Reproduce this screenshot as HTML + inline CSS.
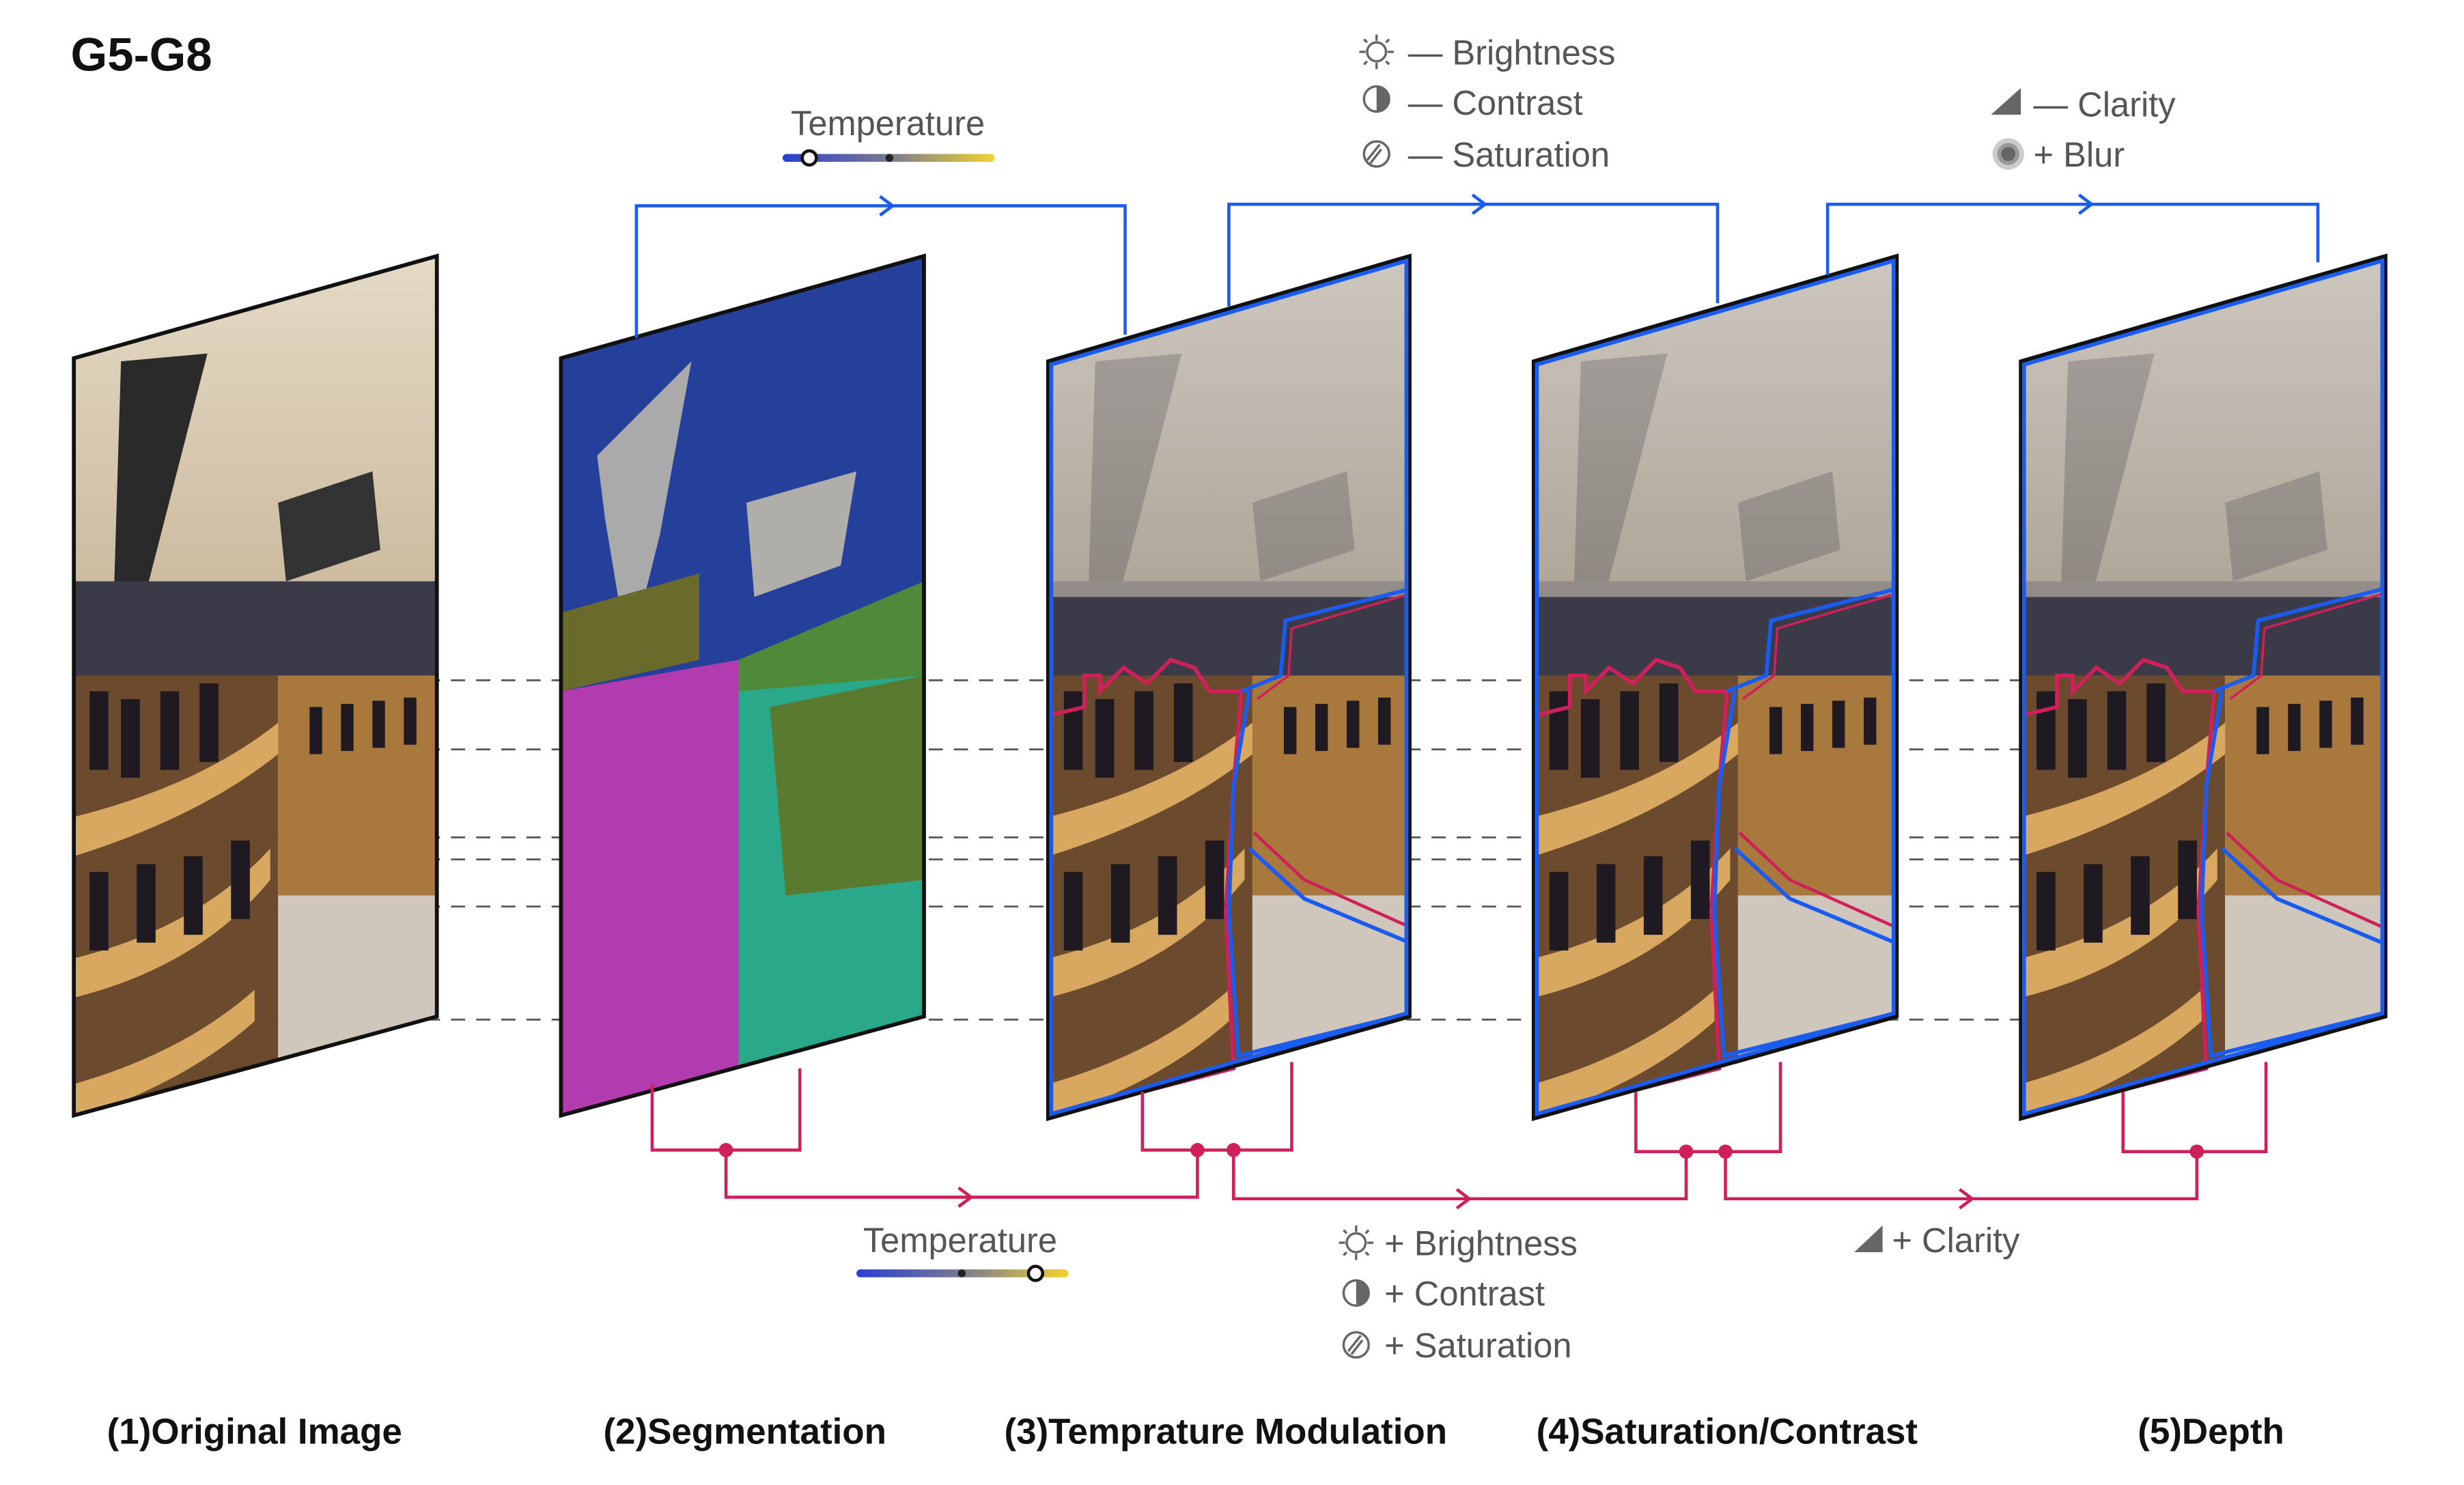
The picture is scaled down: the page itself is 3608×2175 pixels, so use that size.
<!DOCTYPE html>
<html><head><meta charset="utf-8"><style>
html,body{margin:0;padding:0;background:#fff}
svg{display:block}
text{font-family:"Liberation Sans",sans-serif}
</style></head><body>
<svg width="3608" height="2175" viewBox="0 0 1568 945.2" preserveAspectRatio="none" xmlns="http://www.w3.org/2000/svg">
<defs>
<linearGradient id="tg" x1="0" x2="1"><stop offset="0" stop-color="#2a3fd0"/><stop offset="0.5" stop-color="#7a7a90"/><stop offset="1" stop-color="#f2d230"/></linearGradient>
<linearGradient id="ceil" x1="0" y1="0" x2="0" y2="1"><stop offset="0" stop-color="#e6dcc8"/><stop offset="1" stop-color="#c9b79a"/></linearGradient>
<linearGradient id="ceil2" x1="0" y1="0" x2="0" y2="1"><stop offset="0" stop-color="#c9c4bf"/><stop offset="1" stop-color="#a8a098"/></linearGradient>
<clipPath id="c1"><polygon points="47,228 278,163 278,647 47,710"/></clipPath>
<clipPath id="c2"><polygon points="357,228 588,163 588,647 357,710"/></clipPath>
<clipPath id="c3"><polygon points="667,230 897,163 897,647 667,712"/></clipPath>
<clipPath id="c4"><polygon points="976,230 1207,163 1207,647 976,712"/></clipPath>
<clipPath id="c5"><polygon points="1286,230 1518,163 1518,647 1286,712"/></clipPath>
<g id="photo">
<rect x="0" y="150" width="240" height="250" fill="url(#ceil)"/>
<polygon points="30,230 85,225 40,400 25,395" fill="#2a2a2a"/>
<polygon points="130,320 190,300 195,350 135,370" fill="#333"/>
<rect x="0" y="370" width="240" height="60" fill="#3b3a48"/>
<rect x="0" y="430" width="130" height="300" fill="#6b4a2e"/>
<rect x="130" y="430" width="110" height="140" fill="#a8783c"/>
<rect x="130" y="570" width="110" height="160" fill="#cfc6bc"/>
<path d="M0,520 Q80,500 130,460 L130,480 Q80,520 0,545Z" fill="#d9a860"/>
<path d="M0,610 Q80,590 125,540 L125,560 Q80,615 0,635Z" fill="#d9a860"/>
<path d="M0,690 Q70,670 115,630 L115,650 Q70,690 0,712Z" fill="#d9a860"/>
<g fill="#1f1a22"><rect x="10" y="440" width="12" height="50"/><rect x="30" y="445" width="12" height="50"/><rect x="55" y="440" width="12" height="50"/><rect x="80" y="435" width="12" height="50"/><rect x="10" y="555" width="12" height="50"/><rect x="40" y="550" width="12" height="50"/><rect x="70" y="545" width="12" height="50"/><rect x="100" y="535" width="12" height="50"/><rect x="150" y="450" width="8" height="30"/><rect x="170" y="448" width="8" height="30"/><rect x="190" y="446" width="8" height="30"/><rect x="210" y="444" width="8" height="30"/></g>
</g>
</defs>

<g stroke="#555" stroke-width="1.2" stroke-dasharray="9,7" fill="none">
<line x1="47" y1="433" x2="1290" y2="433"/><line x1="47" y1="477" x2="1290" y2="477"/>
<line x1="47" y1="533" x2="1290" y2="533"/><line x1="47" y1="547" x2="1290" y2="547"/>
<line x1="47" y1="577" x2="1290" y2="577"/><line x1="47" y1="649" x2="1290" y2="649"/>
</g>

<g clip-path="url(#c1)"><use href="#photo" x="47" y="0"/></g>
<polygon points="47,228 278,163 278,647 47,710" fill="none" stroke="#111" stroke-width="2.5"/>

<g clip-path="url(#c2)">
<rect x="357" y="150" width="231" height="560" fill="#25409a"/>
<polygon points="380,290 440,230 420,340 400,420 385,330" fill="#aaa"/>
<polygon points="475,320 545,300 535,360 480,380" fill="#b0aeaa"/>
<polygon points="357,390 445,365 445,420 357,440" fill="#6a6a2a"/>
<polygon points="470,420 588,370 588,440 470,460" fill="#4e8a3a"/>
<polygon points="357,440 470,420 470,710 357,710" fill="#b23bb0"/>
<polygon points="470,440 588,430 588,647 470,700" fill="#2aa88a"/>
<polygon points="490,450 588,430 588,560 500,570" fill="#5a7a30"/>
</g>
<polygon points="357,228 588,163 588,647 357,710" fill="none" stroke="#111" stroke-width="2.5"/>

<g clip-path="url(#c3)"><use href="#photo" x="667" y="0"/><rect x="667" y="150" width="230" height="230" fill="url(#ceil2)" opacity="0.8"/></g>
<g clip-path="url(#c4)"><use href="#photo" x="976" y="0"/><rect x="976" y="150" width="231" height="230" fill="url(#ceil2)" opacity="0.8"/></g>
<g clip-path="url(#c5)"><use href="#photo" x="1286" y="0"/><rect x="1286" y="150" width="232" height="230" fill="url(#ceil2)" opacity="0.8"/></g>
<g fill="none" stroke-width="2.5">
<g id="ol">
<polyline points="669,455 690,450 690,430 700,430 700,440 715,425 730,435 745,420 760,425 770,440 790,440 785,500 780,580 785,680 669,710" stroke="#d0205a"/>
<polyline points="790,440 815,430 818,395 897,375" stroke="#1a5cf0"/>
<polyline points="795,440 785,500 782,580 788,672 897,645" stroke="#1a5cf0"/>
<polyline points="800,445 820,430 822,400 897,378" stroke="#d0205a" stroke-width="1.5"/>
<polyline points="798,530 830,560 897,590" stroke="#d0205a" stroke-width="2"/>
<polyline points="795,540 830,572 897,600" stroke="#1a5cf0"/>
</g>
<use href="#ol" x="309"/><use href="#ol" x="619"/>
</g>
<polygon points="667,230 897,163 897,647 667,712" fill="none" stroke="#111" stroke-width="2.5"/>
<polygon points="669,232 895,166 895,645 669,709" fill="none" stroke="#1a5cf0" stroke-width="2.5"/>
<polygon points="976,230 1207,163 1207,647 976,712" fill="none" stroke="#111" stroke-width="2.5"/>
<polygon points="978,232 1205,166 1205,645 978,709" fill="none" stroke="#1a5cf0" stroke-width="2.5"/>
<polygon points="1286,230 1518,163 1518,647 1286,712" fill="none" stroke="#111" stroke-width="2.5"/>
<polygon points="1288,232 1516,166 1516,645 1288,709" fill="none" stroke="#1a5cf0" stroke-width="2.5"/>

<g stroke="#1a5cf0" stroke-width="2" fill="none">
<polyline points="405,215 405,131 716,131 716,213"/><polyline points="560,125 568,131 560,137"/>
<polyline points="782,195 782,130 1093,130 1093,193"/><polyline points="937,124 945,130 937,136"/>
<polyline points="1163,175 1163,130 1475,130 1475,167"/><polyline points="1323,124 1331,130 1323,136"/>
</g>
<g stroke="#d0205a" stroke-width="2" fill="none">
<polyline points="415,690 415,732 509,732 509,680"/>
<polyline points="462,732 462,762 762,762 762,732"/>
<polyline points="727,695 727,732 822,732 822,676"/>
<polyline points="785,732 785,763 1073,763 1073,733"/>
<polyline points="1041,695 1041,733 1133,733 1133,676"/>
<polyline points="1098,733 1098,763 1398,763 1398,733"/>
<polyline points="1351,695 1351,733 1442,733 1442,676"/>
<polyline points="610,756 618,762 610,768"/><polyline points="927,757 935,763 927,769"/><polyline points="1247,757 1255,763 1247,769"/>
</g>
<g fill="#d0205a"><circle cx="462" cy="732" r="4.5"/><circle cx="762" cy="732" r="4.5"/><circle cx="785" cy="732" r="4.5"/><circle cx="1073" cy="733" r="4.5"/><circle cx="1098" cy="733" r="4.5"/><circle cx="1398" cy="733" r="4.5"/></g>

<text x="45" y="45" font-size="30" font-weight="bold" fill="#111">G5-G8</text>
<g fill="#555" font-size="22">
<text x="565" y="86" text-anchor="middle">Temperature</text>
<text x="896" y="41">— Brightness</text>
<text x="896" y="73">— Contrast</text>
<text x="896" y="106">— Saturation</text>
<text x="1294" y="74">— Clarity</text>
<text x="1294" y="106">+ Blur</text>
<text x="611" y="797" text-anchor="middle">Temperature</text>
<text x="881" y="799">+ Brightness</text>
<text x="881" y="831">+ Contrast</text>
<text x="881" y="864">+ Saturation</text>
<text x="1204" y="797">+ Clarity</text>
</g>
<rect x="498" y="98" width="135" height="5" rx="2.5" fill="url(#tg)"/>
<circle cx="515" cy="100.5" r="4.5" fill="#fff" stroke="#111" stroke-width="2"/><circle cx="566" cy="100.5" r="2.5" fill="#222"/>
<rect x="545" y="808" width="135" height="5" rx="2.5" fill="url(#tg)"/>
<circle cx="659" cy="810.5" r="4.5" fill="#fff" stroke="#111" stroke-width="2"/><circle cx="612" cy="810.5" r="2.5" fill="#222"/>
<g fill="none" stroke="#666" stroke-width="1.5">
<circle cx="876" cy="33" r="6"/><path d="M876,22v4M876,40v4M865,33h4M883,33h4M868,25l2,2M882,39l2,2M868,41l2,-2M882,27l2,-2"/>
<circle cx="863" cy="791" r="6"/><path d="M863,780v4M863,798v4M852,791h4M870,791h4M855,783l2,2M869,797l2,2M855,799l2,-2M869,785l2,-2"/>
<circle cx="876" cy="63" r="8"/><circle cx="863" cy="823" r="8"/>
<circle cx="876" cy="98" r="8"/><circle cx="863" cy="856" r="8"/>
<path d="M870,102l8,-10M872,104l7,-9M858,860l8,-10M860,862l7,-9"/>
</g>
<path d="M876,55a8,8 0 0 1 0,16z M863,815a8,8 0 0 1 0,16z" fill="#666"/>
<polygon points="1267,73 1286,73 1286,56" fill="#666"/><polygon points="1180,797 1198,797 1198,780" fill="#666"/>
<circle cx="1278" cy="98" r="10" fill="#ccc"/><circle cx="1278" cy="98" r="7" fill="#999"/><circle cx="1278" cy="98" r="4.5" fill="#666"/>
<g fill="#111" font-size="23" font-weight="bold" text-anchor="middle">
<text x="162" y="919">(1)Original Image</text>
<text x="474" y="919">(2)Segmentation</text>
<text x="780" y="919">(3)Temprature Modulation</text>
<text x="1099" y="919">(4)Saturation/Contrast</text>
<text x="1407" y="919">(5)Depth</text>
</g>
</svg>
</body></html>
